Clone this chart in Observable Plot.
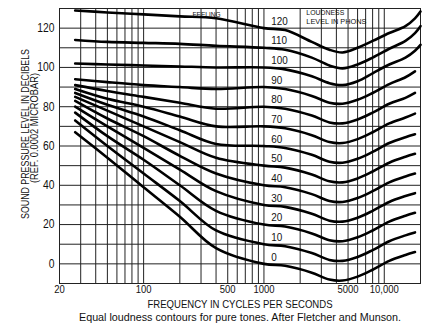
<!DOCTYPE html>
<html><head><meta charset="utf-8">
<script src="https://cdn.jsdelivr.net/npm/d3@7"></script>
<script src="https://cdn.jsdelivr.net/npm/@observablehq/plot@0.6"></script>
<style>
body{margin:0;background:#fff;}
</style></head><body>
<div id="chart"></div>
<script>
const freqs = [27, 50, 100, 200, 400, 1000, 1500, 2500, 3500, 4500, 6000, 8000, 11000, 15000, 18000, 20000];
const phons = [0, 10, 20, 30, 40, 50, 60, 70, 80, 90, 100, 110, 120];
const p0   = [67, 54, 39, 24, 8, 0, -1, -4.5, -8, -8.5, -6.5, -3, 1.5, 4.5, 6, null];
const p10  = [73, 60, 46, 32, 17, 10, 9, 5.5, 2, 1.5, 3.5, 7, 11.5, 14.5, 16, null];
const p20  = [77, 65, 53, 40, 27, 20, 19, 15.5, 12, 11.5, 13.5, 17, 21.5, 24.5, 26, null];
const p30  = [80, 70, 59, 48, 37, 30, 29, 25.5, 22, 21.5, 23.5, 27, 31.5, 34.5, 36, null];
const p40  = [83, 74, 65, 55, 46, 40, 39, 35.5, 32, 31.5, 33.5, 37, 41.5, 44.5, 46, null];
const p50  = [85, 78, 70, 62, 54, 50, 49, 45.5, 42, 41.5, 43.5, 47, 51.5, 54.5, 56, null];
const p60  = [87, 81, 75, 68, 61, 60, 59, 55.5, 52, 51.5, 53.5, 57, 61.5, 64.5, 66, null];
const p70  = [89, 84, 80, 75, 70, 70, 69, 65.5, 62, 61.5, 63.5, 67, 71.5, 74.5, 76.5, null];
const p80  = [91, 88, 85, 82, 79, 80, 79, 75.5, 72, 71.5, 73.5, 77, 81.5, 84.5, 87, null];
const p90  = [94, 92.5, 91, 90, 89, 90, 89, 85.5, 82, 81.5, 83.5, 87, 91.5, 95, 98, null];
const p100 = [102, 101.5, 101, 100.5, 100, 100, 99, 95.5, 92, 91, 93, 97, 101.5, 105, 108.5, 111.5];
const p110 = [114, 113, 112.5, 112, 111, 110, 109, 105, 101, 99.5, 101.5, 105, 109.5, 113.5, 117.5, 121];
const p120 = [129, 128, 127, 126, 125, 120, 119, 113, 109, 107.6, 110, 113.5, 117.5, 121, 125, 128.5];
const curves = [p0, p10, p20, p30, p40, p50, p60, p70, p80, p90, p100, p110, p120];
const xTicks = [20, 100, 500, 1000, 5000, 10000];
const xTickLabels = ["20", "100", "500", "1000", "5000", "10,000"];
const yTicks = [0, 20, 40, 60, 80, 100, 120];
const labelFreq = 1150;

const rows = [];
curves.forEach((arr, i) => arr.forEach((v, j) => { if (v != null) rows.push({phon: phons[i], f: freqs[j], db: v}); }));
const xLabels = xTicks.map((d, i) => ({f: d, label: xTickLabels[i]}));

const gridX = [];
for (const dec of [10, 100, 1000, 10000]) for (let k = 1; k <= 9; k++) { const f = dec * k; if (f >= 20 && f <= 20000) gridX.push(f); }
gridX.push(20000);
const gridY = d3.range(-10, 131, 10);

const font = '"Liberation Sans",Arial,sans-serif';
const chart = Plot.plot({
  width: 424, height: 328,
  marginTop: 8, marginBottom: 45, marginLeft: 59, marginRight: 4,
  style: {fontFamily: font, fontSize: "12px", color: "#111", background: "#fff"},
  x: {type: "log", domain: [20, 20000], axis: null},
  y: {domain: [-10, 130], axis: null},
  marks: [
    Plot.ruleX(gridX, {stroke: "#222", strokeWidth: 1}),
    Plot.ruleY(gridY, {stroke: "#222", strokeWidth: 1}),
    Plot.frame({stroke: "#222"}),
    Plot.line(rows, {x: "f", y: "db", z: "phon", stroke: "#000", strokeWidth: 2.6, curve: "catmull-rom"}),
    Plot.text(phons, {x: labelFreq, y: d => d, text: d => String(d), textAnchor: "start", dy: -7, fontSize: 11.5, fill: "#111"}),
    Plot.text(xLabels, {x: "f", text: "label", frameAnchor: "bottom", dy: 9, fontSize: 11, fill: "#111"}),
    Plot.axisY(yTicks, {tickSize: 0, tickPadding: 5, label: null, fontSize: 12}),
    Plot.text(["FREQUENCY IN CYCLES PER SECONDS"], {text: d => d, frameAnchor: "bottom", dy: 24, fontSize: 11}),
    Plot.text(["Equal loudness contours for pure tones. After Fletcher and Munson."], {text: d => d, frameAnchor: "bottom", dy: 37, fontSize: 11.5}),
    Plot.text(["SOUND PRESSURE LEVEL IN DECIBELS"], {text: d => d, frameAnchor: "left", textAnchor: "middle", dx: -34, dy: -12, rotate: -90, fontSize: 11}),
    Plot.text(["(REF. 0.0002 MICROBAR)"], {text: d => d, frameAnchor: "left", textAnchor: "middle", dx: -25, dy: -18, rotate: -90, fontSize: 11}),
    Plot.text(["FEELING"], {text: d => d, x: 255, y: 127, fontSize: 7, textAnchor: "start"}),
    Plot.text(["LOUDNESS\nLEVEL IN PHONS"], {text: d => d, x: 2250, y: 126, fontSize: 7, textAnchor: "start", lineHeight: 1.25})
  ]
});
document.getElementById("chart").appendChild(chart);

// condensed lettering, like the original typeface
const lengths = new Map([
  ["SOUND PRESSURE LEVEL IN DECIBELS", 170],
  ["(REF. 0.0002 MICROBAR)", 110],
  ["FREQUENCY IN CYCLES PER SECONDS", 185],
  ["Equal loudness contours for pure tones. After Fletcher and Munson.", 322],
  ["FEELING", 28], ["LOUDNESS", 38], ["LEVEL IN PHONS", 60]
]);
chart.querySelectorAll("text, tspan").forEach(el => {
  if (el.querySelector("tspan")) return;
  const s = el.textContent;
  const len = lengths.has(s) ? lengths.get(s) : el.getComputedTextLength() * 0.86;
  el.setAttribute("textLength", len);
  el.setAttribute("lengthAdjust", "spacingAndGlyphs");
});
</script>
</body></html>
